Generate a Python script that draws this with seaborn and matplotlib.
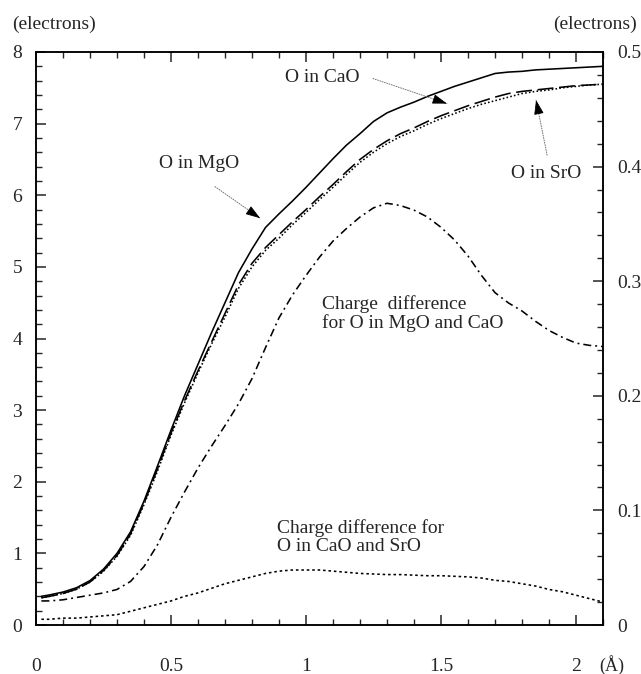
import matplotlib
matplotlib.use("Agg")
import matplotlib.pyplot as plt
import seaborn as sns
import numpy as np

# ---- data ----
r = [0.02, 0.05, 0.10, 0.15, 0.20, 0.25, 0.30, 0.35, 0.40, 0.45, 0.50,
     0.55, 0.60, 0.65, 0.70, 0.75, 0.80, 0.85, 0.90, 0.95, 1.00,
     1.05, 1.10, 1.15, 1.20, 1.25, 1.30, 1.35, 1.40, 1.45, 1.50,
     1.55, 1.60, 1.65, 1.70, 1.75, 1.80, 1.85, 1.90, 1.95, 2.00,
     2.05, 2.10]
o_mgo = [0.40, 0.42, 0.46, 0.52, 0.62, 0.78, 1.00, 1.30, 1.73, 2.22, 2.72,
         3.20, 3.64, 4.08, 4.50, 4.92, 5.25, 5.55, 5.74, 5.92, 6.11,
         6.31, 6.51, 6.70, 6.86, 7.03, 7.15, 7.23, 7.30, 7.38, 7.45,
         7.52, 7.58, 7.64, 7.70, 7.72, 7.73, 7.75, 7.76, 7.77, 7.78,
         7.79, 7.80]
o_cao = [0.38, 0.40, 0.44, 0.50, 0.60, 0.76, 0.97, 1.27, 1.70, 2.18, 2.68,
         3.13, 3.55, 3.95, 4.35, 4.75, 5.05, 5.27, 5.45, 5.63, 5.80,
         5.98, 6.15, 6.33, 6.50, 6.64, 6.76, 6.86, 6.94, 7.03, 7.11,
         7.18, 7.25, 7.31, 7.37, 7.42, 7.45, 7.47, 7.49, 7.51, 7.53,
         7.54, 7.55]
o_sro = [0.38, 0.40, 0.44, 0.50, 0.60, 0.75, 0.96, 1.25, 1.68, 2.15, 2.65,
         3.10, 3.52, 3.92, 4.30, 4.70, 5.00, 5.23, 5.40, 5.59, 5.76,
         5.94, 6.11, 6.29, 6.46, 6.60, 6.72, 6.82, 6.90, 6.99, 7.07,
         7.14, 7.21, 7.27, 7.32, 7.37, 7.42, 7.45, 7.47, 7.50, 7.52,
         7.54, 7.55]
diff_mgo_cao = [0.021, 0.021, 0.022, 0.024, 0.026, 0.028, 0.031, 0.038, 0.051, 0.070, 0.094,
                0.116, 0.137, 0.156, 0.174, 0.193, 0.215, 0.242, 0.268, 0.288, 0.305,
                0.321, 0.335, 0.346, 0.356, 0.364, 0.368, 0.366, 0.362, 0.356, 0.347,
                0.336, 0.322, 0.305, 0.290, 0.281, 0.274, 0.265, 0.257, 0.251, 0.246,
                0.244, 0.243]
diff_cao_sro = [0.005, 0.005, 0.006, 0.006, 0.007, 0.008, 0.009, 0.012, 0.015, 0.018, 0.021,
                0.025, 0.028, 0.032, 0.036, 0.039, 0.042, 0.045, 0.047, 0.048, 0.048,
                0.048, 0.047, 0.046, 0.045, 0.0445, 0.044, 0.044, 0.0435, 0.043, 0.043,
                0.0425, 0.042, 0.041, 0.039, 0.038, 0.036, 0.034, 0.031, 0.029, 0.026,
                0.023, 0.020]

x_ticks = [0, 0.5, 1, 1.5, 2]
x_tick_labels = ["0", "0.5", "1", "1.5", "2"]
left_ticks = [0, 1, 2, 3, 4, 5, 6, 7, 8]
right_ticks = [0, 0.1, 0.2, 0.3, 0.4, 0.5]
right_tick_labels = ["0", "0.1", "0.2", "0.3", "0.4", "0.5"]

# ---- style ----
sns.set_style("ticks")
plt.rcParams['font.family'] = ['Liberation Serif', 'DejaVu Serif']
FS = 14

fig = plt.figure(figsize=(6.41, 6.74), dpi=100)
ax = fig.add_axes([36/641, 49/674, 567/641, 573/674])
ax2 = ax.twinx()

lw = 1.15
sns.lineplot(x=r, y=o_mgo, ax=ax, color="black", lw=lw, linestyle="-")
sns.lineplot(x=r, y=o_cao, ax=ax, color="black", lw=lw, linestyle=(0, (10, 3.5)))
sns.lineplot(x=r, y=o_sro, ax=ax, color="black", lw=lw, linestyle=(0, (1, 1.4)))
sns.lineplot(x=r, y=diff_mgo_cao, ax=ax2, color="black", lw=lw, linestyle=(0, (5, 2.5, 1.2, 2.5)))
sns.lineplot(x=r, y=diff_cao_sro, ax=ax2, color="black", lw=lw, linestyle=(0, (1.6, 1.8)))

ax.set_xlim(0, 2.1)
ax.set_ylim(0, 8)
ax2.set_ylim(0, 0.5)

ax.set_xticks(x_ticks)
ax.set_xticklabels(x_tick_labels)
ax.set_xticks(np.arange(0, 2.11, 0.1), minor=True)
ax.set_yticks(left_ticks)
ax.set_yticklabels([str(v) for v in left_ticks])
ax.set_yticks(np.arange(0, 8.01, 0.2), minor=True)
ax2.set_yticks(right_ticks)
ax2.set_yticklabels(right_tick_labels)
ax2.set_yticks(np.arange(0, 0.501, 0.02), minor=True)

ax.tick_params(axis='x', which='both', direction='in', top=True, bottom=True,
               labelsize=FS, pad=24)
ax.tick_params(axis='y', which='both', direction='in', left=True, right=False,
               labelsize=FS, pad=10)
ax2.tick_params(axis='y', which='both', direction='in', right=True, left=False,
                labelsize=FS, pad=10)
for a in (ax, ax2):
    a.tick_params(which='major', length=7, width=1.1)
    a.tick_params(which='minor', length=4.5, width=1.0)
    for s in a.spines.values():
        s.set_linewidth(1.1)
        s.set_color("black")
ax.set_xlabel("")
ax.set_ylabel("")
ax2.set_ylabel("")

# axis unit labels
fig.text(12/641, 1 - 24/674, "(electrons)", fontsize=FS, ha="left", va="center")
fig.text(637/641, 1 - 24/674, "(electrons)", fontsize=FS, ha="right", va="center")
fig.text(599/641, 1 - 665/674, "(Å)", fontsize=13, ha="left", va="center")

# annotations
def pointer(text, txy, start, tip, back):
    ax.text(txy[0], txy[1], text, fontsize=FS, ha="left", va="center")
    ax.annotate("", xy=tip, xytext=start,
                arrowprops=dict(arrowstyle="-", color="0.45", lw=0.7,
                                linestyle=(0, (1, 1.5)), shrinkA=0, shrinkB=0))
    ax.annotate("", xy=tip, xytext=back, textcoords="offset points",
                arrowprops=dict(arrowstyle="-|>,head_length=0.9,head_width=0.3",
                                color="black", lw=0.6, shrinkA=0, shrinkB=0,
                                mutation_scale=10))

pointer("O in CaO", (0.922, 7.64), (1.248, 7.63), (1.522, 7.28), (-8.0, 2.7))
pointer("O in MgO", (0.456, 6.45), (0.663, 6.12), (0.83, 5.68), (-6.9, 4.7))
pointer("O in SrO", (1.76, 6.30), (1.893, 6.56), (1.852, 7.33), (1.7, -8.2))

ax.text(1.06, 4.35, "Charge  difference\nfor O in MgO and CaO", fontsize=FS,
        ha="left", va="center", linespacing=1.05)
ax.text(0.893, 1.23, "Charge difference for\nO in CaO and SrO", fontsize=FS,
        ha="left", va="center", linespacing=1.05)

fig.savefig("out.png", dpi=100)
